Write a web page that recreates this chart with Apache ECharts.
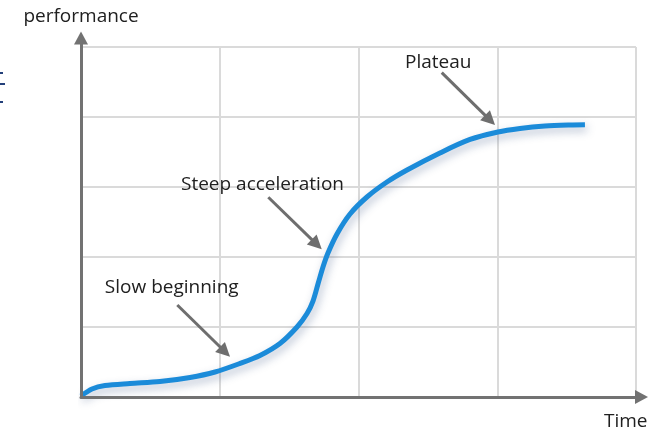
<!DOCTYPE html>
<html>
<head>
<meta charset="utf-8">
<script src="https://cdn.jsdelivr.net/npm/echarts@6/dist/echarts.min.js"></script>
<style>
html,body{margin:0;padding:0;background:#fff;}
#chart{width:654px;height:432px;}
</style>
</head>
<body>
<div id="chart"></div>
<script>
// ---- data ----
var curveX = [0, 0.079, 0.173, 0.353, 0.569, 0.786, 0.966, 1.146, 1.290, 1.434, 1.557, 1.629, 1.672, 1.708, 1.744, 1.780, 1.845, 1.939, 2.061, 2.205, 2.350, 2.587, 2.804, 3.005, 3.164, 3.344, 3.524, 3.632];
var curveY = [0.014, 0.114, 0.164, 0.193, 0.221, 0.279, 0.357, 0.479, 0.593, 0.764, 1.000, 1.193, 1.371, 1.614, 1.857, 2.057, 2.329, 2.614, 2.857, 3.071, 3.243, 3.486, 3.679, 3.786, 3.836, 3.871, 3.886, 3.889];
var annotationTexts = ['Plateau', 'Steep acceleration', 'Slow beginning'];
var annotationTextAt = [[2.575, 4.78], [1.308, 3.03], [0.654, 1.57]];
var arrowFrom = [[2.600, 4.633], [1.350, 2.853], [0.694, 1.314]];
var arrowTo = [[2.948, 3.956], [1.699, 2.180], [1.038, 0.646]];
var xName = 'Time';
var yName = 'performance';
var xMax = 4, yMax = 5;

var FONT = '"Open Sans", sans-serif';
var TEXT = '#202020';
var AXIS = '#727272';
var GRIDC = '#dadada';

var curve = curveX.map(function (x, i) { return [x, curveY[i]]; });

var chart = echarts.init(document.getElementById('chart'), null, {renderer: 'canvas'});
chart.setOption({
  animation: false,
  backgroundColor: '#ffffff',
  grid: [
    {left: 81, top: 47, width: 555, height: 350, containLabel: false, outerBoundsMode: 'none'},
    {left: 81, top: 38, width: 560.5, height: 359, containLabel: false, outerBoundsMode: 'none'}
  ],
  xAxis: [
    {type: 'value', gridIndex: 0, min: 0, max: xMax, interval: 1,
      axisLine: {show: false}, axisTick: {show: false}, axisLabel: {show: false},
      splitLine: {show: true, lineStyle: {color: GRIDC, width: 2}}},
    {type: 'value', gridIndex: 1, min: 0, max: 1, z: 5,
      name: xName, nameLocation: 'end', nameGap: 6,
      nameTextStyle: {fontFamily: FONT, fontSize: 19, color: TEXT, align: 'right', verticalAlign: 'top', padding: [15, 0, 0, 0]},
      axisLine: {show: true, symbol: ['none', 'triangle'], symbolSize: [14, 13], lineStyle: {color: AXIS, width: 3}},
      axisTick: {show: false}, axisLabel: {show: false}, splitLine: {show: false}}
  ],
  yAxis: [
    {type: 'value', gridIndex: 0, min: 0, max: yMax, interval: 1,
      axisLine: {show: false}, axisTick: {show: false}, axisLabel: {show: false},
      splitLine: {show: true, lineStyle: {color: GRIDC, width: 2}}},
    {type: 'value', gridIndex: 1, min: 0, max: 1, z: 5,
      name: yName, nameLocation: 'end', nameGap: 12,
      nameTextStyle: {fontFamily: FONT, fontSize: 19, color: TEXT, align: 'center'},
      axisLine: {show: true, symbol: ['none', 'triangle'], symbolSize: [14, 13], lineStyle: {color: AXIS, width: 3}},
      axisTick: {show: false}, axisLabel: {show: false}, splitLine: {show: false}}
  ],
  graphic: [
    {type: 'rect', shape: {x: 0, y: 72, width: 3, height: 2}, style: {fill: '#23407a'}},
    {type: 'rect', shape: {x: 0, y: 83, width: 5, height: 2}, style: {fill: '#23407a'}},
    {type: 'rect', shape: {x: 0, y: 101, width: 3, height: 2}, style: {fill: '#23407a'}}
  ],
  series: [
    {
      type: 'line',
      xAxisIndex: 0, yAxisIndex: 0,
      data: curve,
      smooth: 0.3,
      showSymbol: false,
      clip: false,
      z: 3,
      lineStyle: {color: '#1b8bd9', width: 5, cap: 'butt',
        shadowColor: 'rgba(40,70,120,0.35)', shadowBlur: 8, shadowOffsetX: 2, shadowOffsetY: 4},
      markLine: {
        silent: true,
        symbol: ['none', 'triangle'],
        symbolSize: 14,
        label: {show: false},
        lineStyle: {color: '#6e6e6e', width: 3, type: 'solid'},
        emphasis: {disabled: true},
        data: arrowFrom.map(function (p, i) { return [{coord: p}, {coord: arrowTo[i]}]; })
      },
      markPoint: {
        silent: true,
        symbol: 'circle',
        symbolSize: 0,
        itemStyle: {color: 'rgba(0,0,0,0)'},
        label: {show: true, position: 'inside', formatter: '{b}', fontFamily: FONT, fontSize: 19, color: TEXT},
        data: annotationTexts.map(function (t, i) { return {name: t, coord: annotationTextAt[i], value: 0}; })
      }
    }
  ]
});
</script>
</body>
</html>
